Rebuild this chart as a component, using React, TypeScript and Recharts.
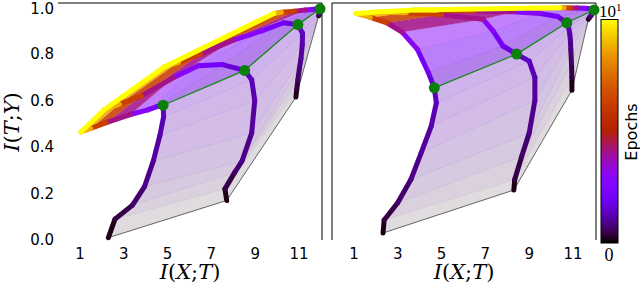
import React from "react";
import { ScatterChart, Scatter, XAxis, YAxis } from "recharts";

type P = [number, number];

// colour position of every stored epoch on the colour bar (0 = first, 1 = last)
const epochLevels = [0, 0.03, 0.06, 0.08, 0.1, 0.115, 0.13, 0.145, 0.18, 0.24, 0.32, 0.5, 0.75, 1.0];
const greenEpoch = 7;

const xTicks = [1, 3, 5, 7, 9, 11];
const yTicks = [0, 0.2, 0.4, 0.6, 0.8, 1.0];

// left panel: (I(X;T), I(T;Y)) of each layer at the stored epochs
const leftLayer1: P[] = [
  [2.3, 0.01], [2.6, 0.09], [3.4, 0.15], [3.95, 0.23], [4.35, 0.34], [4.65, 0.45], [4.82, 0.53], [4.8, 0.58],
  [4.55, 0.575], [4.1, 0.56], [3.3, 0.54], [2.2, 0.505], [1.5, 0.48], [1.05, 0.465],
];
const leftLayer2: P[] = [
  [7.7, 0.17], [7.62, 0.22], [8.06, 0.29], [8.4, 0.34], [8.84, 0.46], [8.98, 0.6], [8.84, 0.69], [8.52, 0.73],
  [7.5, 0.755], [6.4, 0.75], [5.3, 0.7], [3.8, 0.62], [2.8, 0.585], [2.1, 0.56],
];
const leftLayer3: P[] = [
  [10.86, 0.615], [10.9, 0.65], [10.95, 0.69], [11.02, 0.74], [11.09, 0.78], [11.15, 0.84], [11.16, 0.89], [10.95, 0.927],
  [10.3, 0.935], [9.3, 0.9], [8.0, 0.86], [6.5, 0.8], [5.5, 0.765], [4.85, 0.745],
];
const leftLayer4: P[] = [
  [11.9, 0.965], [11.92, 0.97], [11.93, 0.975], [11.94, 0.98], [11.95, 0.985], [11.96, 0.99], [11.97, 0.993], [11.96, 0.995],
  [11.85, 0.995], [11.6, 0.992], [11.3, 0.99], [10.8, 0.985], [10.2, 0.98], [9.85, 0.975],
];

// right panel
const rightLayer1: P[] = [
  [2.33, 0.03], [2.38, 0.086], [3.0, 0.16], [3.6, 0.26], [4.07, 0.375], [4.53, 0.49], [4.76, 0.59], [4.67, 0.655],
  [4.4, 0.72], [3.9, 0.82], [3.2, 0.895], [2.5, 0.935], [1.75, 0.958], [1.1, 0.975],
];
const rightLayer2: P[] = [
  [8.3, 0.215], [8.34, 0.26], [8.66, 0.36], [9.0, 0.46], [9.26, 0.6], [9.26, 0.7], [9.0, 0.77], [8.43, 0.8],
  [7.8, 0.835], [7.35, 0.9], [6.9, 0.95], [5.0, 0.97], [3.4, 0.978], [1.9, 0.98],
];
const rightLayer3: P[] = [
  [10.95, 0.645], [10.95, 0.7], [10.93, 0.76], [10.9, 0.82], [10.88, 0.86], [10.85, 0.89], [10.8, 0.915], [10.72, 0.935],
  [10.3, 0.962], [9.5, 0.975], [8.3, 0.982], [6.5, 0.986], [4.8, 0.988], [3.75, 0.99],
];
const rightLayer4: P[] = [
  [11.7, 0.95], [11.75, 0.957], [11.8, 0.963], [11.85, 0.97], [11.88, 0.976], [11.92, 0.982], [11.94, 0.987], [11.96, 0.99],
  [11.8, 0.995], [11.5, 0.997], [11.2, 0.998], [10.9, 0.999], [10.6, 1.0], [10.4, 1.0],
];

// matplotlib "gnuplot" colour map
function gnuplot(v: number) {
  const r = Math.sqrt(v);
  const g = v * v * v;
  const b = Math.max(0, Math.sin(2 * Math.PI * v));
  return `rgb(${Math.round(r * 255)},${Math.round(g * 255)},${Math.round(b * 255)})`;
}

function webAlpha(c: number) {
  if (c < 0.15) return 0.12 + c * 1.3;
  if (c < 0.4) return 0.5;
  return 0.88;
}

const noShape = () => <g />;
const greenDot = (p: any) => <circle cx={p.cx} cy={p.cy} r={5.5} fill="#0b7f0b" />;

const tickStyle = { fontFamily: "DejaVu Sans", fontSize: 15, fill: "#000" };
const xDomain: [number, number] = [0, 12.05];
const yDomain: [number, number] = [0, 1.02];

function Panel({ layers, side }: { layers: P[][]; side: "left" | "right" }) {
  const pts = layers.map((l) => l.map(([x, y]) => ({ x, y })));
  const last = epochLevels.length - 1;
  const items: React.ReactNode[] = [];

  // web between neighbouring layers, epoch by epoch
  for (let k = 0; k < last; k++) {
    const c = (epochLevels[k] + epochLevels[k + 1]) / 2;
    for (let i = 0; i < pts.length - 1; i++) {
      items.push(
        <Scatter
          key={`w${k}-${i}`}
          data={[pts[i][k], pts[i + 1][k], pts[i + 1][k + 1], pts[i][k + 1]]}
          line={{ fill: gnuplot(c), fillOpacity: webAlpha(c), stroke: gnuplot(c), strokeOpacity: webAlpha(c) * 0.35, strokeWidth: 0.5 }}
          lineType="joint"
          shape={noShape}
          isAnimationActive={false}
          legendType="none"
        />
      );
    }
  }

  items.push(
    <Scatter
      key="start"
      data={pts.map((l) => l[0])}
      line={{ stroke: "#444", strokeWidth: 0.8, fill: "none" }}
      lineType="joint"
      shape={noShape}
      isAnimationActive={false}
      legendType="none"
    />
  );

  // layer trajectories
  pts.forEach((layer, i) => {
    for (let k = 0; k < last; k++) {
      const c = (epochLevels[k] + epochLevels[k + 1]) / 2;
      items.push(
        <Scatter
          key={`t${i}-${k}`}
          data={[layer[k], layer[k + 1]]}
          line={{ stroke: gnuplot(c), strokeWidth: 5, strokeLinecap: "round", fill: "none" }}
          lineType="joint"
          shape={noShape}
          isAnimationActive={false}
          legendType="none"
        />
      );
    }
  });

  items.push(
    <Scatter
      key="final"
      data={pts.map((l) => l[last])}
      line={{ stroke: gnuplot(1), strokeWidth: 5, strokeLinecap: "round", fill: "none" }}
      lineType="joint"
      shape={noShape}
      isAnimationActive={false}
      legendType="none"
    />
  );

  items.push(
    <Scatter
      key="green"
      data={pts.map((l) => l[greenEpoch])}
      line={{ stroke: "#158a15", strokeWidth: 1.3, fill: "none" }}
      lineType="joint"
      shape={greenDot}
      isAnimationActive={false}
      legendType="none"
    />
  );

  const isLeft = side === "left";
  return (
    <ScatterChart
      width={isLeft ? 330 : 290}
      height={285}
      margin={isLeft ? { top: 3, right: 7, bottom: 0, left: 0 } : { top: 3, right: 15, bottom: 0, left: 9 }}
    >
      <XAxis
        type="number"
        dataKey="x"
        domain={xDomain}
        ticks={xTicks}
        axisLine={false}
        tickLine={false}
        tick={tickStyle}
        height={45}
      />
      <XAxis
        xAxisId="top"
        orientation="top"
        type="number"
        dataKey="x"
        domain={xDomain}
        ticks={xTicks}
        height={1}
        axisLine={{ stroke: "#000" }}
        tickLine={!isLeft}
        tickSize={3}
        mirror
        tick={false}
      />
      {isLeft ? (
        <YAxis
          type="number"
          dataKey="y"
          domain={yDomain}
          ticks={yTicks}
          width={58}
          axisLine={false}
          tickLine={false}
          tickSize={0}
          tickMargin={4}
          tick={tickStyle}
          tickFormatter={(v: number) => v.toFixed(1)}
        />
      ) : (
        <YAxis
          type="number"
          dataKey="y"
          domain={yDomain}
          ticks={[0.4]}
          width={1}
          axisLine={{ stroke: "#000" }}
          tickSize={3}
          tick={false}
        />
      )}
      <YAxis
        yAxisId="r"
        orientation="right"
        type="number"
        dataKey="y"
        domain={yDomain}
        ticks={[0.4]}
        width={1}
        axisLine={{ stroke: "#000" }}
        tickLine={isLeft}
        tickSize={3}
        tick={false}
      />
      <Scatter
        xAxisId="top"
        yAxisId="r"
        data={[]}
        shape={noShape}
        isAnimationActive={false}
        legendType="none"
      />
      {items}
    </ScatterChart>
  );
}

const mathFont = { fontFamily: "DejaVu Serif", fontSize: 21, fill: "#000" };

function AxisTitle({ a, b, x, y, rotate }: { a: string; b: string; x: number; y: number; rotate?: boolean }) {
  return (
    <text x={x} y={y} textAnchor="middle" {...mathFont} transform={rotate ? `rotate(-90 ${x} ${y})` : undefined}>
      <tspan fontStyle="italic">I</tspan>(<tspan fontStyle="italic">{a}</tspan>;<tspan fontStyle="italic">{b}</tspan>)
    </text>
  );
}

const barStops = Array.from({ length: 33 }, (_, i) => i / 32);

export default function App() {
  return (
    <div style={{ position: "relative", width: 640, height: 285, background: "#fff", overflow: "hidden" }}>
      <style>{`body{margin:0}`}</style>
      <div style={{ position: "absolute", left: 0, top: 0 }}>
        <Panel layers={[leftLayer1, leftLayer2, leftLayer3, leftLayer4]} side="left" />
      </div>
      <div style={{ position: "absolute", left: 322, top: 0 }}>
        <Panel layers={[rightLayer1, rightLayer2, rightLayer3, rightLayer4]} side="right" />
      </div>
      <svg width={640} height={285} style={{ position: "absolute", left: 0, top: 0, pointerEvents: "none" }}>
        <defs>
          <linearGradient id="cbar" x1="0" y1="1" x2="0" y2="0">
            {barStops.map((s) => (
              <stop key={s} offset={s} stopColor={gnuplot(s)} />
            ))}
          </linearGradient>
        </defs>
        <AxisTitle a="X" b="T" x={190} y={279} />
        <AxisTitle a="X" b="T" x={464} y={279} />
        <AxisTitle a="T" b="Y" x={19} y={122} rotate />
        <rect x={601} y={19.5} width={17} height={223.5} fill="url(#cbar)" stroke="#000" strokeWidth={1} />
        <text x={599} y={17} fontFamily="Liberation Serif" fontSize={17} fill="#000">
          10<tspan dy={-6} fontSize={11}>1</tspan>
        </text>
        <text x={609} y={261} textAnchor="middle" fontFamily="Liberation Serif" fontSize={18} fill="#000">
          0
        </text>
        <text x={637} y={132} textAnchor="middle" fontFamily="DejaVu Sans" fontSize={16} fill="#000" transform="rotate(-90 637 132)">
          Epochs
        </text>
      </svg>
    </div>
  );
}
